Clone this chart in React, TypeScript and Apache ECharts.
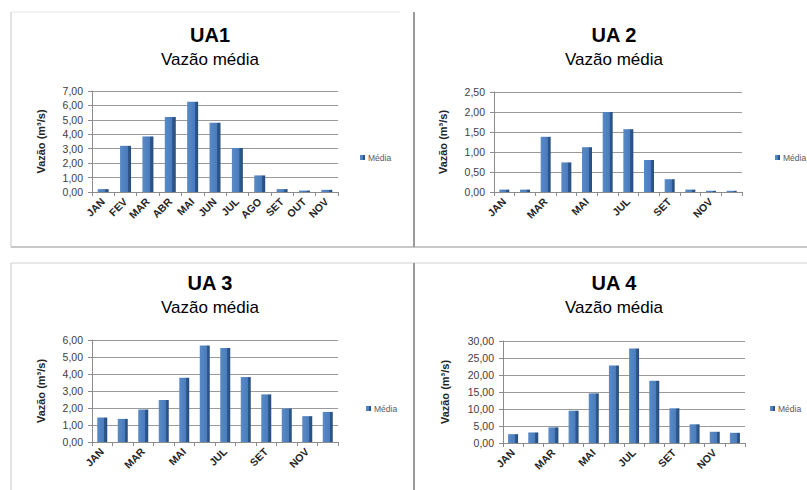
import React, { useEffect, useRef } from "react";
import * as echarts from "echarts";

const months11 = ["JAN", "FEV", "MAR", "ABR", "MAI", "JUN", "JUL", "AGO", "SET", "OUT", "NOV"];
const months12 = ["JAN", "FEV", "MAR", "ABR", "MAI", "JUN", "JUL", "AGO", "SET", "OUT", "NOV", "DEZ"];

const ua1Values = [0.2, 3.2, 3.85, 5.2, 6.25, 4.8, 3.05, 1.15, 0.2, 0.1, 0.15];
const ua2Values = [0.06, 0.06, 1.38, 0.74, 1.12, 2.0, 1.57, 0.8, 0.32, 0.06, 0.03, 0.03];
const ua3Values = [1.44, 1.36, 1.91, 2.47, 3.78, 5.67, 5.53, 3.82, 2.8, 1.97, 1.52, 1.77];
const ua4Values = [2.6, 3.1, 4.6, 9.5, 14.6, 22.8, 27.8, 18.3, 10.2, 5.5, 3.3, 3.0];

const panelTitles = ["UA1", "UA 2", "UA 3", "UA 4"];
const subtitle = "Vazão média";
const yName = "Vazão (m³/s)";
const seriesName = "Média";
const yMax = [7, 2.5, 6, 30];
const yInterval = [1, 0.5, 1, 5];

export default function App() {
  const ref = useRef<HTMLDivElement>(null);
  useEffect(() => {
    if (!ref.current) return;
    const chart = echarts.init(ref.current, null, { renderer: "svg" });
    const panels = [
      { cats: months11, vals: ua1Values, grid: { left: 92, top: 91, width: 246, height: 101 }, tx: 210, ty: 25, lg: { left: 360, top: 153 }, labInt: 0, nameGap: 46, barW: 11 },
      { cats: months12, vals: ua2Values, grid: { left: 494, top: 92, width: 248, height: 100 }, tx: 614, ty: 25, lg: { left: 775, top: 153 }, labInt: 1, nameGap: 46, barW: 10 },
      { cats: months12, vals: ua3Values, grid: { left: 92, top: 340, width: 246, height: 102 }, tx: 210, ty: 273, lg: { left: 366, top: 404 }, labInt: 1, nameGap: 46, barW: 10 },
      { cats: months12, vals: ua4Values, grid: { left: 503, top: 341, width: 242, height: 102 }, tx: 614, ty: 273, lg: { left: 770, top: 404 }, labInt: 1, nameGap: 53, barW: 10 },
    ];
    const barColor = new echarts.graphic.LinearGradient(0, 0, 1, 0, [
      { offset: 0, color: "#5a8bc8" },
      { offset: 0.68, color: "#4a7bbb" },
      { offset: 0.7, color: "#2f5a8f" },
      { offset: 1, color: "#284d7c" },
    ]);
    const fmt = (v: number) => v.toFixed(2).replace(".", ",");
    const option: any = {
      animation: false,
      backgroundColor: "#ffffff",
      textStyle: { fontFamily: "Liberation Sans, Arial, sans-serif" },
      title: panels.map((p, i) => ({
        text: panelTitles[i],
        subtext: subtitle,
        left: p.tx,
        top: p.ty,
        textAlign: "center",
        padding: 0,
        itemGap: 6,
        textStyle: { fontSize: 20, fontWeight: "bold", color: "#000", fontFamily: "Liberation Sans, Arial, sans-serif" },
        subtextStyle: { fontSize: 17, color: "#000", fontFamily: "Liberation Sans, Arial, sans-serif" },
      })),
      legend: panels.map((p) => ({
        data: [seriesName],
        left: p.lg.left,
        top: p.lg.top,
        icon: "rect",
        itemWidth: 5,
        itemHeight: 5,
        itemGap: 2,
        padding: 0,
        selectedMode: false,
        textStyle: { fontSize: 8.5, color: "#595959", padding: [0, 0, 0, -2] },
      })),
      grid: panels.map((p) => ({ ...p.grid, containLabel: false })),
      xAxis: panels.map((p, i) => ({
        type: "category",
        gridIndex: i,
        data: p.cats,
        boundaryGap: true,
        axisLine: { lineStyle: { color: "#8c8c8c" } },
        axisTick: { show: true, interval: 0, length: 4, lineStyle: { color: "#8c8c8c" } },
        axisLabel: { interval: p.labInt, rotate: 45, fontSize: 10.5, fontWeight: "bold", color: "#262626", margin: 8 },
      })),
      yAxis: panels.map((p, i) => ({
        type: "value",
        gridIndex: i,
        min: 0,
        max: yMax[i],
        interval: yInterval[i],
        name: yName,
        nameLocation: "middle",
        nameRotate: 90,
        nameGap: p.nameGap,
        nameTextStyle: { fontSize: 11, fontWeight: "bold", color: "#262626" },
        axisLine: { show: true, lineStyle: { color: "#8c8c8c" } },
        axisTick: { show: true, length: 4, lineStyle: { color: "#8c8c8c" } },
        axisLabel: { fontSize: 10.5, color: "#404040", margin: 9, formatter: fmt },
        splitLine: { lineStyle: { color: "#9a9a9a", width: 1 } },
      })),
      series: panels.map((p, i) => ({
        type: "bar",
        name: seriesName,
        xAxisIndex: i,
        yAxisIndex: i,
        data: p.vals,
        barWidth: p.barW,
        itemStyle: { color: barColor },
      })),
      graphic: [
        { type: "line", shape: { x1: 11, y1: 12, x2: 400, y2: 12 }, style: { stroke: "#e8e8e8", lineWidth: 1 } },
        { type: "line", shape: { x1: 11, y1: 12, x2: 11, y2: 247 }, style: { stroke: "#d9d9d9", lineWidth: 1.5 } },
        { type: "line", shape: { x1: 11, y1: 247, x2: 807, y2: 247 }, style: { stroke: "#c8c8c8", lineWidth: 2 } },
        { type: "line", shape: { x1: 414, y1: 12, x2: 414, y2: 247 }, style: { stroke: "#9a9a9a", lineWidth: 2 } },
        { type: "line", shape: { x1: 11, y1: 263, x2: 807, y2: 263 }, style: { stroke: "#e0e0e0", lineWidth: 1.5 } },
        { type: "line", shape: { x1: 11, y1: 263, x2: 11, y2: 490 }, style: { stroke: "#d9d9d9", lineWidth: 1.5 } },
        { type: "line", shape: { x1: 414, y1: 263, x2: 414, y2: 490 }, style: { stroke: "#9a9a9a", lineWidth: 2 } },
      ],
    };
    chart.setOption(option);
    return () => chart.dispose();
  }, []);
  return <div ref={ref} style={{ position: "absolute", left: 0, top: 0, width: 807, height: 490 }} />;
}
